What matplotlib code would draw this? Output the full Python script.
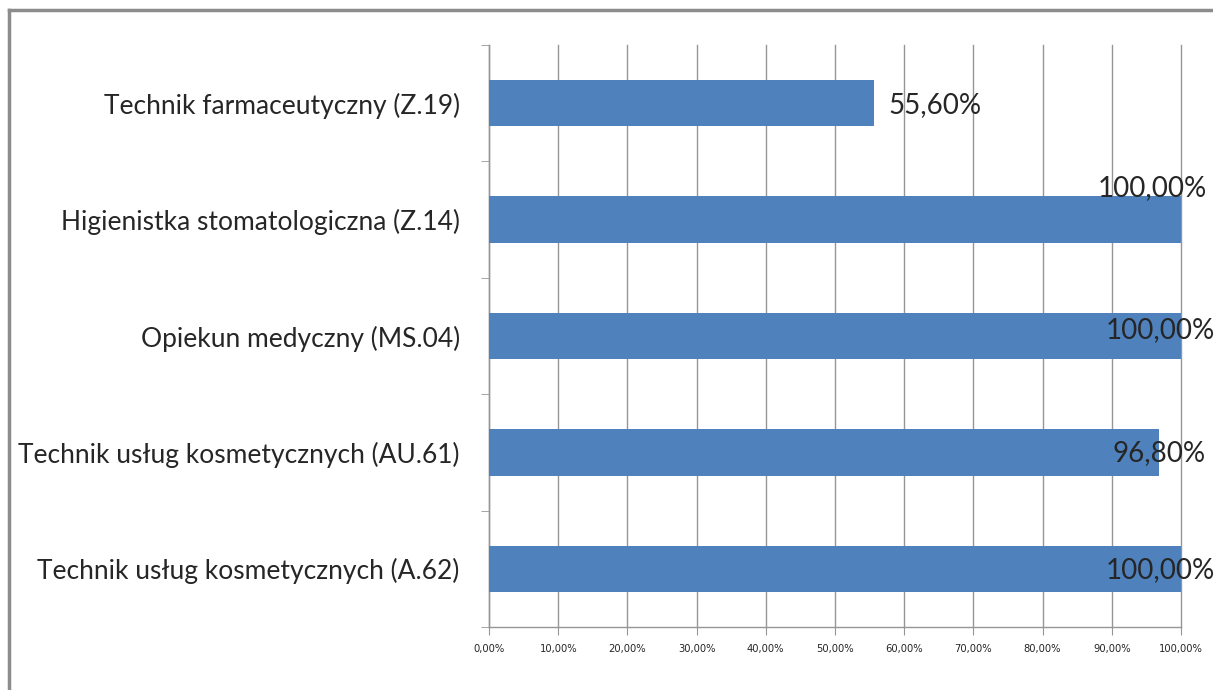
import matplotlib
matplotlib.use("Agg")
import matplotlib.pyplot as plt
from matplotlib.lines import Line2D

categories = [
    "Technik usług kosmetycznych (A.62)",
    "Technik usług kosmetycznych (AU.61)",
    "Opiekun medyczny (MS.04)",
    "Higienistka stomatologiczna (Z.14)",
    "Technik farmaceutyczny (Z.19)",
]
values = [100.0, 96.8, 100.0, 100.0, 55.6]
value_labels = ["100,00%", "96,80%", "100,00%", "100,00%", "55,60%"]
xticks = [0, 10, 20, 30, 40, 50, 60, 70, 80, 90, 100]
xtick_labels = ["0,00%", "10,00%", "20,00%", "30,00%", "40,00%", "50,00%",
                "60,00%", "70,00%", "80,00%", "90,00%", "100,00%"]

W, H = 1213, 690
fig = plt.figure(figsize=(W / 100, H / 100), dpi=100)
fig.patch.set_facecolor("white")

left, right, top, bottom = 489, 1181, 45, 627
ax = fig.add_axes([left / W, 1 - bottom / H, (right - left) / W, (bottom - top) / H])

font = "Lato"
txt_color = "#262626"
grid_color = "#969696"
bar_color = "#4F81BD"
ypos = list(range(len(categories)))
ax.barh(ypos, values, height=0.4, color=bar_color, zorder=3)

ax.set_xlim(0, 100)
ax.set_ylim(-0.5, len(categories) - 0.5)
ax.set_xticks(xticks)
ax.set_xticklabels(xtick_labels, fontsize=7.2, family="DejaVu Sans", color=txt_color)
ax.xaxis.grid(True, color=grid_color, linewidth=1.0, zorder=0)
for gl in ax.get_xgridlines():
    gl.set_clip_on(False)
ax.set_yticks(ypos)
ax.set_yticklabels(categories, fontsize=19, family=font, color=txt_color)
ax.tick_params(axis="y", length=0, pad=21)
ax.set_yticks([i - 0.5 for i in range(len(categories) + 1)], minor=True)
ax.tick_params(axis="y", which="minor", length=6, color=grid_color, direction="out")
ax.tick_params(axis="x", length=6, color=grid_color, direction="out", pad=6)

for s in ["top", "right"]:
    ax.spines[s].set_visible(False)
for s in ["left", "bottom"]:
    ax.spines[s].set_color(grid_color)
    ax.spines[s].set_linewidth(1.0)

# data labels (positions mimic the original chart's placement)
offsets = [(-21, -1), (0, -1), (-21, 6), (-29, 32), (15, -2)]
for y, v, lab, (dx, dy) in zip(ypos, values, value_labels, offsets):
    ha = "left" if v < 90 else "center"
    ax.annotate(lab, (v, y), xytext=(dx, dy), textcoords="offset pixels",
                ha=ha, va="center", fontsize=20, family=font, color=txt_color,
                zorder=5, annotation_clip=False)

# outer frame
fig.add_artist(Line2D([9 / W, 9 / W], [0, 1 - 10 / H], transform=fig.transFigure,
                      color="#8c8c8c", linewidth=2.5))
fig.add_artist(Line2D([9 / W, 1], [1 - 10 / H, 1 - 10 / H], transform=fig.transFigure,
                      color="#8c8c8c", linewidth=2.5))

fig.savefig("out.png", dpi=100)
